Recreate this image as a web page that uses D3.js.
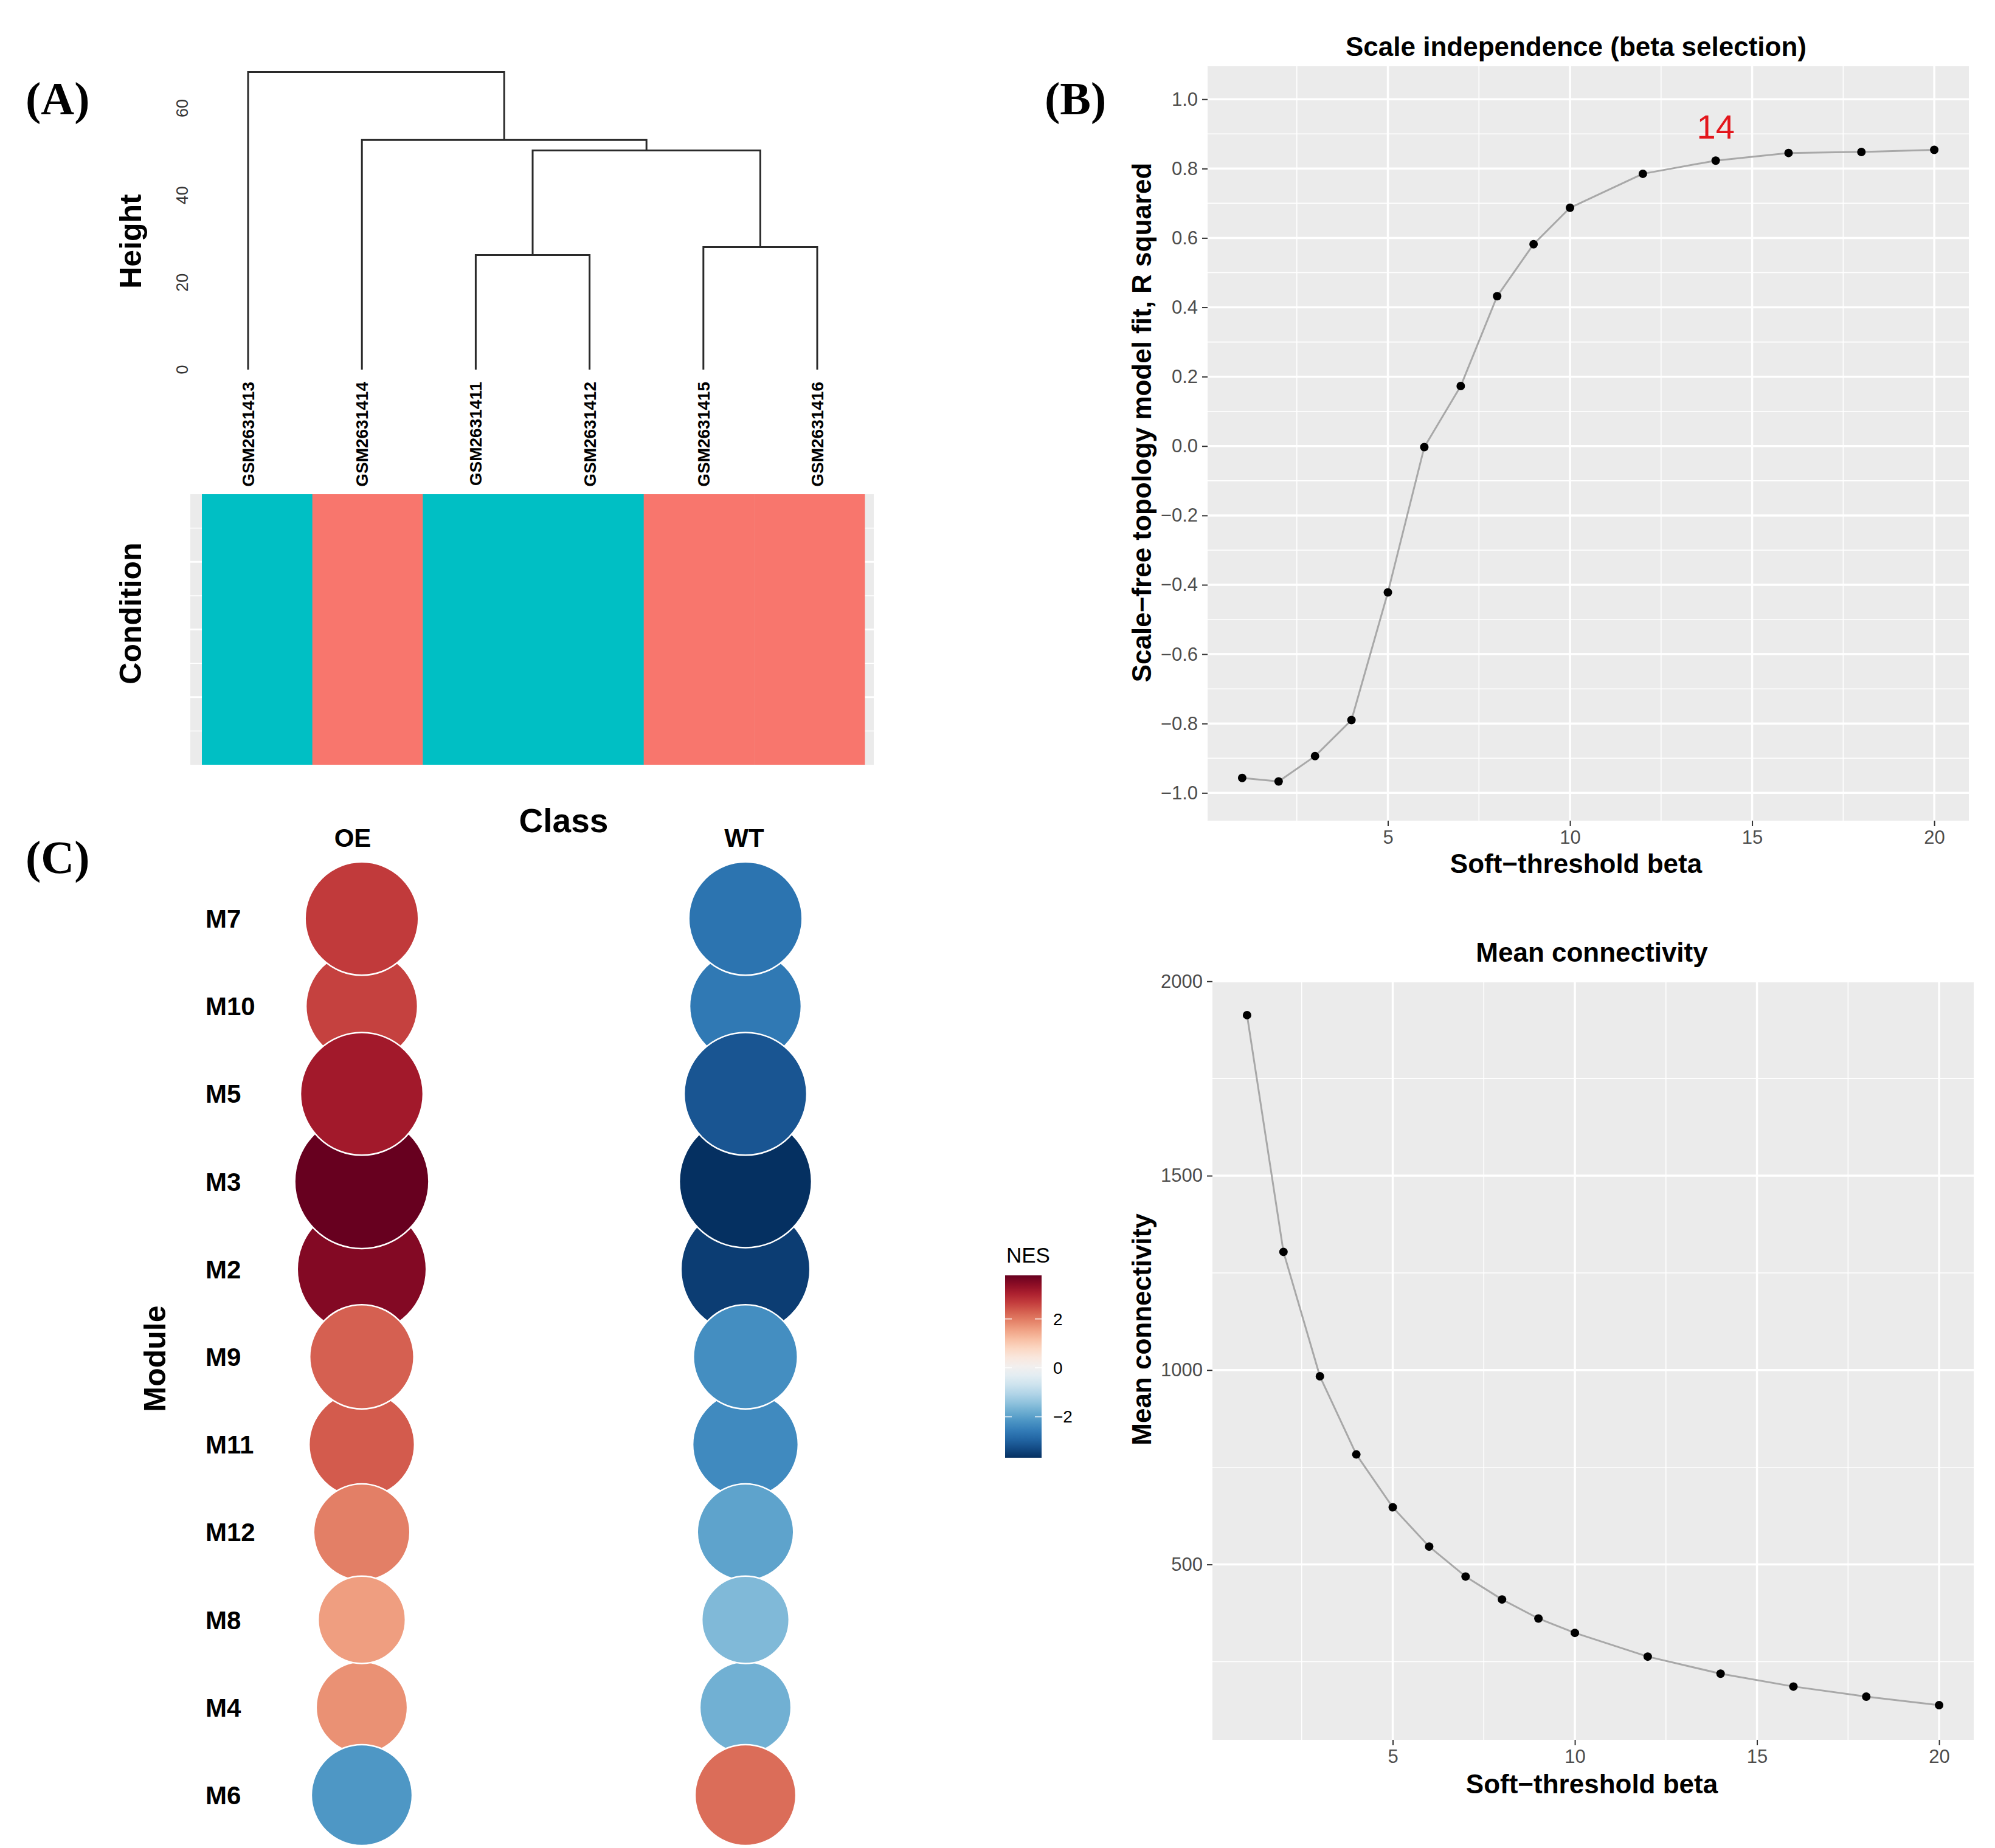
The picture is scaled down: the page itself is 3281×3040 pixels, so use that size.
<!DOCTYPE html>
<html><head><meta charset="utf-8">
<script src="https://cdn.jsdelivr.net/npm/d3@7"></script>
<style>body{margin:0;background:#fff} svg{display:block}</style>
</head><body>
<svg id="c" width="3281" height="3040"></svg>
<script>
// ---------------- data ----------------
const leaves = ["GSM2631413","GSM2631414","GSM2631411","GSM2631412","GSM2631415","GSM2631416"];
const mergeLeft   = ["GSM2631411","GSM2631415", 0, "GSM2631414", "GSM2631413"];
const mergeRight  = ["GSM2631412","GSM2631416", 1, 2, 3];
const mergeHeight = [26.3, 28.1, 50.3, 52.7, 68.3];
const condition = ["WT","OE","WT","WT","OE","OE"];
const heightTicks = [0,20,40,60];

const beta = [1,2,3,4,5,6,7,8,9,10,12,14,16,18,20];
const rSquared = [-0.957,-0.967,-0.894,-0.790,-0.422,-0.003,0.173,0.432,0.582,0.687,0.785,0.823,0.845,0.848,0.854];
const meanK = [1913,1304,984,783,647,546,469,410,361,324,263,219,186,160,138];
const betaTicks = [5,10,15,20];
const betaMinor = [2.5,7.5,12.5,17.5];
const rTicks = [-1,-0.8,-0.6,-0.4,-0.2,0,0.2,0.4,0.6,0.8,1];
const rMinor = [-0.9,-0.7,-0.5,-0.3,-0.1,0.1,0.3,0.5,0.7,0.9];
const kTicks = [500,1000,1500,2000];
const kMinor = [250,750,1250,1750];
const selectedBeta = 14;

const modules = ["M7","M10","M5","M3","M2","M9","M11","M12","M8","M4","M6"];
const classes = ["OE","WT"];
const nesOE = [2.7, 2.62, 3.16, 3.78, 3.5, 2.28, 2.34, 1.95, 1.6, 1.75, -2.14];
const nesWT = [-2.7,-2.62,-3.16,-3.68,-3.5,-2.28,-2.34,-1.95,-1.6,-1.75, 2.14];
const nesTicks = [-2,0,2];
const nesLimits = [-3.68, 3.78];

// ---------------- setup ----------------
const svg = d3.select("#c");
const SANS = "'Liberation Sans', Arial, Helvetica, sans-serif";
const SERIF = "'Liberation Serif', 'Times New Roman', serif";
svg.append("rect").attr("width",3281).attr("height",3040).attr("fill","#fff");
const fmtMinus = s => String(s).replace("-", "\u2212");

function label(txt, x, y, size, opts={}) {
  const t = svg.append("text").attr("x",x).attr("y",y).text(txt)
    .attr("font-family", opts.family||SANS).attr("font-size",size)
    .attr("font-weight", opts.weight||"bold").attr("fill", opts.fill||"#000")
    .attr("text-anchor", opts.anchor||"middle");
  if (opts.rotate) t.attr("transform",`rotate(-90,${x},${y})`);
  return t;
}

// panel letters
label("(A)", 42, 188, 76, {family:SERIF, anchor:"start"});
label("(B)", 1718, 188, 76, {family:SERIF, anchor:"start"});
label("(C)", 42, 1436, 76, {family:SERIF, anchor:"start"});

// ---------------- Panel A: dendrogram ----------------
const lx = d3.scalePoint().domain(leaves).range([408,1344]);
const hy = d3.scaleLinear().domain([0,60]).range([608,178]);
const nodeX = [];
const posOf = c => (typeof c === "number") ? {x:nodeX[c], h:mergeHeight[c]} : {x:lx(c), h:0};
const dg = svg.append("g").attr("fill","none").attr("stroke","#2a2a2a").attr("stroke-width",3);
mergeHeight.forEach((h,i)=>{
  const a = posOf(mergeLeft[i]), b = posOf(mergeRight[i]);
  nodeX[i] = (a.x+b.x)/2;
  dg.append("path").attr("d", `M${a.x},${hy(a.h)}V${hy(h)}H${b.x}V${hy(b.h)}`);
});
heightTicks.forEach(v=>{
  label(v, 309, hy(v), 27, {weight:"normal", fill:"#333", rotate:true});
});
leaves.forEach(s=>{
  label(s, lx(s)+10, 628, 28, {anchor:"end", rotate:true});
});
label("Height", 232, 397, 50, {rotate:true});

// condition bar
const bx = d3.scaleBand().domain(leaves).range([332,1422]);
const condColor = d3.scaleOrdinal().domain(["OE","WT"]).range(["#F8766D","#00BFC4"]);
svg.append("rect").attr("x",313).attr("y",813).attr("width",1437-313).attr("height",1258-813).attr("fill","#EBEBEB");
const gy = d3.scaleLinear().domain([0,8]).range([813,1258]);
d3.range(1,8).forEach(k=>{
  svg.append("line").attr("x1",313).attr("x2",1437).attr("y1",gy(k)).attr("y2",gy(k))
    .attr("stroke","#fff").attr("stroke-width", k%2 ? 1.5 : 3);
});
leaves.forEach((s,i)=>{
  svg.append("rect").attr("x",bx(s)).attr("y",813).attr("width",bx.bandwidth()+0.5).attr("height",1258-813)
    .attr("fill",condColor(condition[i]));
});
label("Condition", 232, 1009, 50, {rotate:true});

// ---------------- Panel B plots ----------------
function linePanel(o){
  const x = d3.scaleLinear().domain([0.05,20.95]).range(o.xr);
  const y = d3.scaleLinear().domain(o.yd).range(o.yr);
  const g = svg.append("g");
  g.append("rect").attr("x",o.xr[0]).attr("y",o.yr[1]).attr("width",o.xr[1]-o.xr[0]).attr("height",o.yr[0]-o.yr[1]).attr("fill","#EBEBEB");
  o.yMinor.forEach(v=>g.append("line").attr("x1",o.xr[0]).attr("x2",o.xr[1]).attr("y1",y(v)).attr("y2",y(v)).attr("stroke","#fff").attr("stroke-width",1.6));
  betaMinor.forEach(v=>g.append("line").attr("y1",o.yr[0]).attr("y2",o.yr[1]).attr("x1",x(v)).attr("x2",x(v)).attr("stroke","#fff").attr("stroke-width",1.6));
  o.yTicks.forEach(v=>g.append("line").attr("x1",o.xr[0]).attr("x2",o.xr[1]).attr("y1",y(v)).attr("y2",y(v)).attr("stroke","#fff").attr("stroke-width",3.5));
  betaTicks.forEach(v=>g.append("line").attr("y1",o.yr[0]).attr("y2",o.yr[1]).attr("x1",x(v)).attr("x2",x(v)).attr("stroke","#fff").attr("stroke-width",3.5));
  const line = d3.line().x((d,i)=>x(beta[i])).y(d=>y(d));
  g.append("path").attr("d",line(o.vals)).attr("fill","none").attr("stroke","#A8A8A8").attr("stroke-width",3).attr("stroke-linejoin","round");
  g.selectAll("circle.p").data(o.vals).join("circle").attr("cx",(d,i)=>x(beta[i])).attr("cy",d=>y(d)).attr("r",7).attr("fill","#000");
  const ax = g.append("g").attr("transform",`translate(${o.xr[0]},0)`)
    .call(d3.axisLeft(y).tickValues(o.yTicks).tickSize(9).tickPadding(7).tickFormat(o.fmt));
  const bx2 = g.append("g").attr("transform",`translate(0,${o.yr[0]})`)
    .call(d3.axisBottom(x).tickValues(betaTicks).tickSize(9).tickPadding(7));
  [ax,bx2].forEach(a=>{
    a.select(".domain").remove();
    a.selectAll("line").attr("stroke","#333").attr("stroke-width",2);
    a.selectAll("text").attr("font-family",SANS).attr("font-size",31).attr("fill","#4D4D4D");
  });
  label(o.title, o.tx, o.ty, 44);
  label("Soft\u2212threshold beta", o.tx, o.xty, 44);
  label(o.yTitle, 1893, o.ycy, 44, {rotate:true});
  return {x,y,g};
}

const topP = linePanel({xr:[1986,3238], yr:[1350,109], yd:[-1.08,1.095], vals:rSquared,
  yTicks:rTicks, yMinor:rMinor, fmt:d=>fmtMinus(d3.format(".1f")(d)),
  title:"Scale independence (beta selection)", tx:2592, ty:92, xty:1436,
  yTitle:"Scale\u2212free topology model fit, R squared", ycy:695});
const iSel = beta.indexOf(selectedBeta);
topP.g.append("text").attr("x",topP.x(selectedBeta)).attr("y",topP.y(rSquared[iSel])-36).text(selectedBeta)
  .attr("text-anchor","middle").attr("font-family",SANS).attr("font-size",56).attr("fill","#E3161C");

linePanel({xr:[1994,3246], yr:[2862,1613], yd:[49,2002], vals:meanK,
  yTicks:kTicks, yMinor:kMinor, fmt:d=>d,
  title:"Mean connectivity", tx:2618, ty:1582, xty:2950,
  yTitle:"Mean connectivity", ycy:2187});

// ---------------- Panel C: bubble ----------------
const cx = d3.scaleOrdinal().domain(classes).range([595,1226]);
const cy = d3.scalePoint().domain(modules).range([1511,2953]);
const color = v => d3.interpolateRdBu((nesLimits[1]-v)/(nesLimits[1]-nesLimits[0]));
const rScale = d3.scaleSqrt().domain([0, 3.78]).range([0, 110.4]);
const pts = [];
modules.forEach((m,i)=>{ pts.push({m, c:"OE", v:nesOE[i]}); pts.push({m, c:"WT", v:nesWT[i]}); });
pts.sort((a,b)=> d3.ascending(a.m,b.m));
svg.append("g").selectAll("circle").data(pts).join("circle")
  .attr("cx",d=>cx(d.c)).attr("cy",d=>cy(d.m)).attr("r",d=>rScale(Math.abs(d.v)))
  .attr("fill",d=>color(d.v)).attr("stroke","#fff").attr("stroke-width",2.5);
modules.forEach(m=> label(m, 338, cy(m)+15, 42, {anchor:"start"}));
classes.forEach(c=> label(c, c==="OE"?580:1224, 1393, 42));
label("Class", 927, 1369, 55);
label("Module", 272, 2235, 50, {rotate:true});

// legend
const ly = d3.scaleLinear().domain(nesLimits).range([2398,2098]);
const defs = svg.append("defs");
const grad = defs.append("linearGradient").attr("id","nesg").attr("x1",0).attr("y1",1).attr("x2",0).attr("y2",0);
d3.range(0,1.0001,0.05).forEach(t=>{
  const v = nesLimits[0]+t*(nesLimits[1]-nesLimits[0]);
  grad.append("stop").attr("offset",t).attr("stop-color",color(v));
});
svg.append("rect").attr("x",1653).attr("y",2098).attr("width",60).attr("height",300).attr("fill","url(#nesg)");
nesTicks.forEach(v=>{
  svg.append("line").attr("x1",1653).attr("x2",1664).attr("y1",ly(v)).attr("y2",ly(v)).attr("stroke","#fff").attr("stroke-width",2).attr("opacity",0.7);
  svg.append("line").attr("x1",1702).attr("x2",1713).attr("y1",ly(v)).attr("y2",ly(v)).attr("stroke","#fff").attr("stroke-width",2).attr("opacity",0.7);
  label(fmtMinus(v), 1732, ly(v)+10, 28, {anchor:"start", weight:"normal"});
});
label("NES", 1655, 2077, 35, {anchor:"start", weight:"normal"});
</script>
</body></html>
